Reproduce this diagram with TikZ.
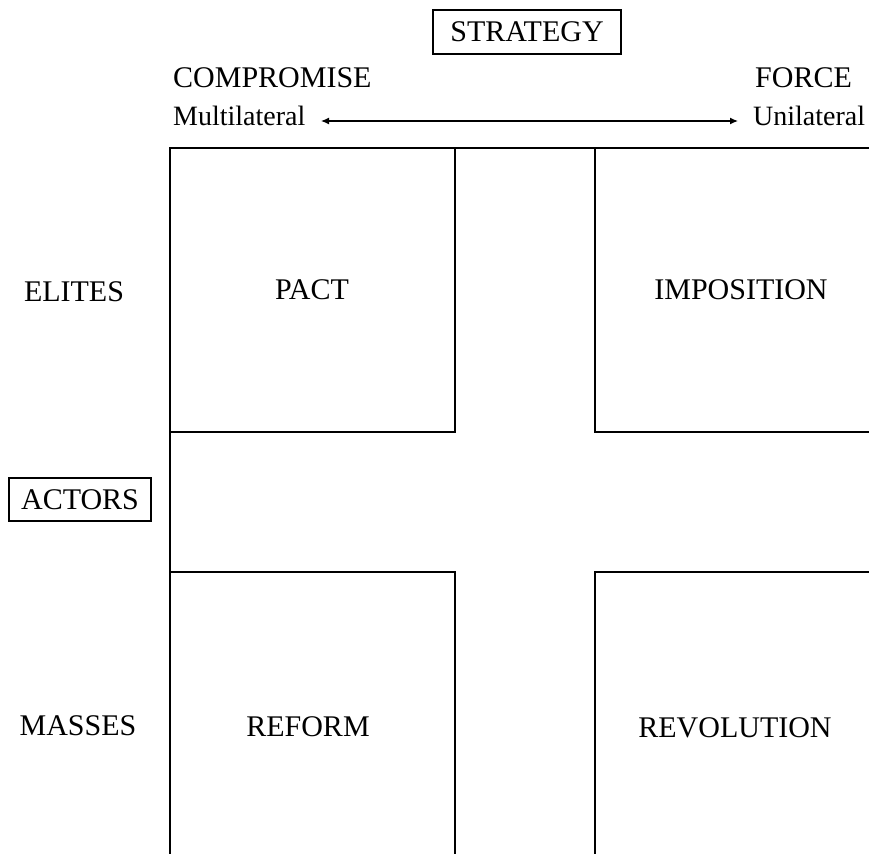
\documentclass[tikz,border=0pt]{standalone}
\usepackage{fontspec}
\setmainfont{Liberation Serif}
\usetikzlibrary{arrows.meta}
\begin{document}
\begin{tikzpicture}[x=1pt,y=-1pt,
  lbl/.style={inner sep=0pt,font=\fontsize{30}{36}\selectfont},
  small/.style={inner sep=0pt,font=\fontsize{28}{34}\selectfont},
  framed/.style={lbl,draw,line width=1.3pt},
  grid/.style={line width=1.4pt,line cap=rect},
  axis/.style={line width=1.2pt,{Latex[length=8pt,width=7pt]}-{Latex[length=8pt,width=7pt]}}]
\useasboundingbox (0,0) rectangle (869,853);
% frame lines
\draw[grid] (869,148) -- (170,148) -- (170,853);
\draw[grid] (455,148) -- (455,432) -- (170,432);
\draw[grid] (595,148) -- (595,432) -- (869,432);
\draw[grid] (170,572) -- (455,572) -- (455,853);
\draw[grid] (869,572) -- (595,572) -- (595,853);
% headings
\node[framed,minimum width=188pt,minimum height=44pt] (strategy) at (527,32) {STRATEGY};
\node[framed,minimum width=142pt,minimum height=43pt] (actors) at (80,499.5) {ACTORS};
\node[lbl,anchor=base west] (compromise) at (173,88) {COMPROMISE};
\node[small,anchor=base west] (multi) at (173,126) {Multilateral};
\node[lbl,anchor=base west] (force) at (755,88) {FORCE};
\node[small,anchor=base west] (uni) at (753,126) {Unilateral};
\coordinate (al) at (321,121);
\coordinate (ar) at (738,121);
\draw[axis] (al) -- (ar);
% row labels
\node[lbl,anchor=base] (elites) at (74,301) {ELITES};
\node[lbl,anchor=base] (masses) at (78,735) {MASSES};
% cells
\node[lbl,anchor=base] (pact) at (312,299) {PACT};
\node[lbl,anchor=base] (imposition) at (741,299) {IMPOSITION};
\node[lbl,anchor=base] (reform) at (308,736) {REFORM};
\node[lbl,anchor=base] (revolution) at (735,737) {REVOLUTION};
\end{tikzpicture}
\end{document}
